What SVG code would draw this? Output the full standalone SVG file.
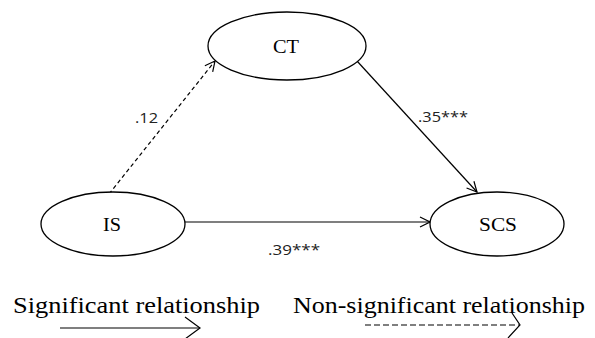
<svg xmlns="http://www.w3.org/2000/svg" width="595" height="338" viewBox="0 0 595 338">
<defs>
<style>
.node{fill:#fff;stroke:#000;stroke-width:1.3}
.lbl{font-family:"Liberation Serif","Times New Roman",serif;font-size:19px;fill:#000;text-anchor:middle}
.num{font-family:"Open Sans","Liberation Sans",sans-serif;font-size:15px;fill:#222}
.leg{font-family:"Liberation Serif","Times New Roman",serif;font-size:24px;fill:#000}
.edge{stroke:#000;stroke-width:1.2;fill:none}
.dash{stroke-dasharray:4 3}
</style>
<marker id="arr" viewBox="0 0 12 12" refX="11" refY="6" markerWidth="12" markerHeight="12" markerUnits="userSpaceOnUse" orient="auto">
<path d="M1,1 L11,6 L1,11" fill="none" stroke="#000" stroke-width="1.2"/>
</marker>
</defs>
<g id="connectors">
<line class="edge dash" x1="109" y1="194" x2="215" y2="61" marker-end="url(#arr)"/>
<line class="edge" x1="357" y1="61" x2="477" y2="192" marker-end="url(#arr)"/>
<line class="edge" x1="185" y1="222" x2="430" y2="222" marker-end="url(#arr)"/>
<text class="num" x="135" y="123" textLength="23" lengthAdjust="spacingAndGlyphs">.12</text>
<text class="num" x="418" y="122" textLength="50" lengthAdjust="spacingAndGlyphs">.35***</text>
<text class="num" x="268" y="255" textLength="52" lengthAdjust="spacingAndGlyphs">.39***</text>
</g>
<g id="CT">
<ellipse class="node" cx="287" cy="46" rx="79" ry="34"/>
<text class="lbl" x="286" y="53" textLength="26" lengthAdjust="spacingAndGlyphs">CT</text>
</g>
<g id="IS">
<ellipse class="node" cx="113" cy="224" rx="72" ry="32"/>
<text class="lbl" x="112" y="231" textLength="18" lengthAdjust="spacingAndGlyphs">IS</text>
</g>
<g id="SCS">
<ellipse class="node" cx="497" cy="224" rx="67" ry="32"/>
<text class="lbl" x="498" y="231" textLength="38" lengthAdjust="spacingAndGlyphs">SCS</text>
</g>
<g id="legend">
<text class="leg" x="13" y="313" textLength="247" lengthAdjust="spacingAndGlyphs">Significant relationship</text>
<text class="leg" x="293" y="313" textLength="292" lengthAdjust="spacingAndGlyphs">Non-significant relationship</text>
<line class="edge" x1="60" y1="328" x2="200" y2="328"/>
<path class="edge" d="M185,317 L200,328 L185,339"/>
<line class="edge" x1="365" y1="325" x2="519" y2="325" style="stroke-dasharray:6 3"/>
<path class="edge" d="M512,313 L520,325 L508,338"/>
</g>
</svg>
